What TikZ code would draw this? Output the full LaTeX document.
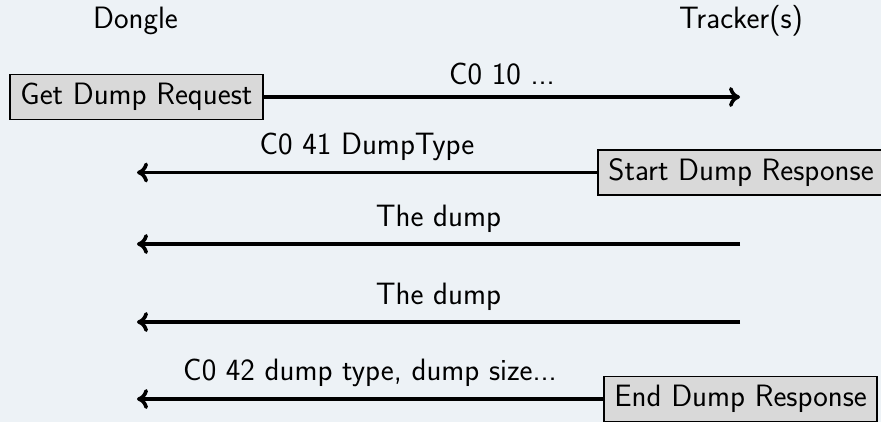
\documentclass[tikz,border=0pt]{standalone}
\usepackage{fontspec}
\usetikzlibrary{arrows.meta}
\definecolor{bgcol}{RGB}{237,242,246}
\definecolor{boxfill}{RGB}{217,217,217}
\begin{document}
\begin{tikzpicture}[x=1bp,y=-1bp,
  every node/.style={font=\sffamily\fontsize{31}{37}\selectfont},
  msgbox/.style={draw=black,line width=1.8bp,fill=boxfill,inner xsep=10.5bp,minimum height=45bp,anchor=west},
  msg/.style={line width=3.6bp,-{Computer Modern Rightarrow[length=11bp,width=20bp]}},
  lbl/.style={midway,above,inner sep=10bp}]
\fill[bgcol] (0,0) rectangle (881,422);
\useasboundingbox (0,0) rectangle (881,422);

\node[anchor=base] (dongle) at (135.5,28) {Dongle};
\node[anchor=base] (tracker) at (741,28) {Tracker(s)};

\node[msgbox] (req) at (9,97) {Get Dump Request};
\node[msgbox] (start) at (597,172.5) {Start Dump Response};
\node[msgbox] (end) at (603,399) {End Dump Response};

\coordinate (t1) at (740,97);
\coordinate (d2) at (137,172.5);
\coordinate (t3) at (740,244);
\coordinate (d3) at (137,244);
\coordinate (t4) at (740,322);
\coordinate (d4) at (137,322);
\coordinate (d5) at (137,399);

\draw[msg] (req.east) -- (t1) node[lbl] (l1) {C0 10 ...};
\draw[msg] (start.west) -- (d2) node[lbl] (l2) {C0 41 DumpType};
\draw[msg] (t3) -- (d3) node[lbl] (l3) {The dump};
\draw[msg] (t4) -- (d4) node[lbl] (l4) {The dump};
\draw[msg] (end.west) -- (d5) node[lbl] (l5) {C0 42 dump type, dump size...};
\end{tikzpicture}
\end{document}
